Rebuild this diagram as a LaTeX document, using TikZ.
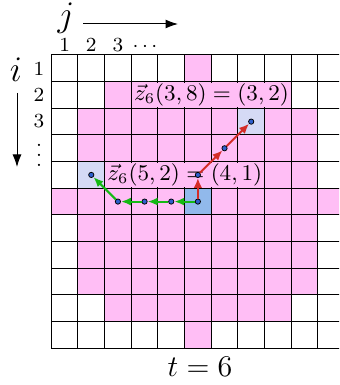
\documentclass[tikz,border=0pt]{standalone}
\usetikzlibrary{arrows.meta}
\definecolor{pinkc}{RGB}{255,190,245}
\definecolor{lightcell}{RGB}{213,218,245}
\definecolor{centercell}{RGB}{145,185,235}
\definecolor{redc}{RGB}{212,45,40}
\definecolor{greenc}{RGB}{20,185,20}
\definecolor{dotc}{RGB}{45,95,205}
\tikzset{
  gridline/.style={line width=0.4pt, black},
  dotnode/.style={circle, fill=dotc, draw=black, line width=0.3pt, inner sep=0pt, minimum size=2.1pt},
  redarrow/.style={redc, line width=0.8pt, -{Latex[length=4pt,width=3.4pt]}},
  greenarrow/.style={greenc, line width=0.8pt, -{Latex[length=4pt,width=3.2pt]}},
  axisarrow/.style={black, line width=0.4pt, -{Latex[length=5pt,width=3.6pt]}},
  eqlabel/.style={fill=pinkc, inner xsep=0.6pt, inner ysep=0pt, minimum height=9.4pt, anchor=west, font=\fontsize{9.2}{10}\selectfont},
  numlabel/.style={anchor=base, inner sep=0pt, font=\fontsize{8}{9}\selectfont},
  biglabel/.style={anchor=base, inner sep=0pt, font=\fontsize{15}{17}\selectfont},
}
\begin{document}
\begin{tikzpicture}[x=0.4pt,y=-0.4pt]
\useasboundingbox (0,0) rectangle (339,385);
\clip (0,0) rectangle (339,385);
\begin{scope}[shift={(20.52pt,-22pt)}, x=10.66pt, y=-10.66pt]
  % disc cells
  \foreach \i in {1,...,11}{
    \foreach \j in {1,...,11}{
      \pgfmathtruncatemacro\dd{(\i-6)*(\i-6)+(\j-6)*(\j-6)}
      \ifnum\dd<26 \fill[pinkc] (\j-1,\i-1) rectangle (\j,\i); \fi
    }
  }
  \fill[lightcell] (1,4) rectangle (2,5);
  \fill[lightcell] (7,2) rectangle (8,3);
  \fill[centercell] (5,5) rectangle (6,6);
  % grid
  \foreach \k in {0,...,11}{
    \draw[gridline] (\k,0) -- (\k,11);
    \draw[gridline] (0,\k) -- (11,\k);
  }
  % labels
  \node[eqlabel] (lab1) at (3.03,1.5) {$\vec{z}_6(3,8) = (3,2)$};
  \node[eqlabel] (lab2) at (2.03,4.5) {$\vec{z}_6(5,2) = (4,1)$};
  % points
  \node[dotnode] (p66) at (5.5,5.5) {};
  \node[dotnode] (p56) at (5.5,4.5) {};
  \node[dotnode] (p47) at (6.5,3.5) {};
  \node[dotnode] (p38) at (7.5,2.5) {};
  \node[dotnode] (p65) at (4.5,5.5) {};
  \node[dotnode] (p64) at (3.5,5.5) {};
  \node[dotnode] (p63) at (2.5,5.5) {};
  \node[dotnode] (p52) at (1.5,4.5) {};
  % paths
  \draw[redarrow] (p66) -- (p56);
  \draw[redarrow] (p56) -- (p47);
  \draw[redarrow] (p47) -- (p38);
  \draw[greenarrow] (p66) -- (p65);
  \draw[greenarrow] (p65) -- (p64);
  \draw[greenarrow] (p64) -- (p63);
  \draw[greenarrow] (p63) -- (p52);
\end{scope}
% axis labels
\node[biglabel] (jlab) at (66,27) {$j$};
\coordinate (ja1) at (83,24);
\coordinate (ja2) at (178,24);
\draw[axisarrow] (ja1) -- (ja2);
\node[biglabel] (ilab) at (16,82) {$i$};
\coordinate (ia1) at (17,93);
\coordinate (ia2) at (17,167);
\draw[axisarrow] (ia1) -- (ia2);
% column numbers
\node[numlabel] (c1) at (64.6,52) {$1$};
\node[numlabel] (c2) at (91.3,52) {$2$};
\node[numlabel] (c3) at (118,52) {$3$};
\node[numlabel] (c4) at (145,52) {$\cdots$};
% row numbers
\node[numlabel] (r1) at (39,76) {$1$};
\node[numlabel] (r2) at (39,102) {$2$};
\node[numlabel] (r3) at (39,128) {$3$};
\node[anchor=center, inner sep=0pt, font=\fontsize{8}{9}\selectfont] (r4) at (39,147.5) {$\vdots$};
% time label
\node[anchor=base, inner sep=0pt, font=\fontsize{11.5}{13}\selectfont] (tlab) at (200,376) {$t = 6$};
\end{tikzpicture}
\end{document}
